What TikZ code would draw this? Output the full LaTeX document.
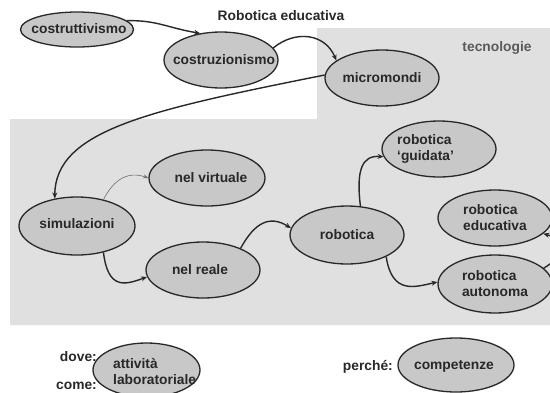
\documentclass[tikz,border=0pt]{standalone}
\usepackage{fontspec}
\setmainfont{Liberation Sans}
\usetikzlibrary{arrows.meta,shapes.geometric}
\definecolor{panel}{RGB}{224,224,224}
\definecolor{bubble}{RGB}{200,200,200}
\definecolor{ink}{RGB}{40,40,40}
\definecolor{soft}{RGB}{90,90,90}
\definecolor{faint}{RGB}{110,110,110}

\begin{document}
\begin{tikzpicture}[x=1pt,y=-1pt,
  txt/.style={font=\fontsize{13.8}{16.5}\selectfont\bfseries, text=ink, inner sep=0pt},
  bub/.style={ellipse, draw=ink, line width=1.3pt, fill=bubble, inner sep=0pt},
  link/.style={draw=ink, line width=1.4pt, -{Stealth[length=6pt,width=5pt]}},
  weak/.style={draw=faint, line width=0.6pt, -{Stealth[length=5pt,width=4pt]}}]
\useasboundingbox (0,0) rectangle (550,392);

% shaded area for the technologies
\fill[panel] (10,119) -- (317,119) -- (317,28) -- (550,28) -- (550,325) -- (10,325) -- cycle;

% headings
\node[txt] (title) at (281,16) {Robotica educativa};
\node[txt, text=soft] (tech) at (497,48) {tecnologie};

% bubbles
\node[bub, minimum width=113, minimum height=35] (c1) at (77,29.5) {};
\node[txt] (c1t) at (79,29) {costruttivismo};
\node[bub, minimum width=114, minimum height=56] (c2) at (221,60) {};
\node[txt] (c2t) at (224,60) {costruzionismo};
\node[bub, minimum width=114, minimum height=56] (mm) at (382,78) {};
\node[txt] (mmt) at (mm) {micromondi};
\node[bub, minimum width=116, minimum height=58] (sim) at (77,226) {};
\node[txt] (simt) at (77,224) {simulazioni};
\node[bub, minimum width=116, minimum height=56] (virt) at (207,178) {};
\node[txt] (virtt) at (211,178) {nel virtuale};
\node[bub, minimum width=114, minimum height=56] (real) at (203,270) {};
\node[txt] (realt) at (200,270) {nel reale};
\node[bub, minimum width=114, minimum height=58] (rob) at (347,235) {};
\node[txt] (robt) at (rob) {robotica};
\node[bub, minimum width=114, minimum height=56] (guid) at (439,149) {};
\node[txt, align=left, anchor=west] (guidt) at (397,149) {robotica\\‘guidata’};
\node[bub, minimum width=114, minimum height=56] (edu) at (495,218) {};
\node[txt, align=left] (edut) at (495,217.5) {robotica\\educativa};
\node[bub, minimum width=114, minimum height=58] (auto) at (495,284) {};
\node[txt, align=left] (autot) at (495,283.5) {robotica\\autonoma};
\node[bub, minimum width=107, minimum height=54] (att) at (146.5,370) {};
\node[txt, align=left, anchor=west] (attt) at (113,371.5) {attività\\laboratoriale};
\node[bub, minimum width=116, minimum height=54] (comp) at (456,365) {};
\node[txt] (compt) at (454,366) {competenze};

% side labels
\node[txt, anchor=east] (dove) at (97,357) {dove:};
\node[txt, anchor=east] (come) at (97,386) {come:};
\node[txt, anchor=east] (perche) at (393,367) {perché:};

% connectors
\draw[link] (c1.10) .. controls (157,20) and (168,28) .. (c2.128);
\draw[link] (c2.13) .. controls (295,30) and (325,33) .. (mm.159);
\draw[link] (mm.177) .. controls (150,110) and (55,130) .. (sim.129);
\draw[weak] (sim.45) .. controls (112,183) and (125,170) .. (virt.180);
\draw[link] (sim.-45) .. controls (108,290) and (125,285) .. (real.187);
\draw[link] (real.30) .. controls (255,222) and (270,215) .. (rob.173);
\draw[link] (rob.65) .. controls (356,170) and (362,155) .. (guid.188);
\draw[link] (rob.-29) .. controls (392,295) and (415,287) .. (auto.178);
\draw[link] (auto.18) .. controls (566,255) and (566,240) .. (edu.-18);
\end{tikzpicture}
\end{document}
